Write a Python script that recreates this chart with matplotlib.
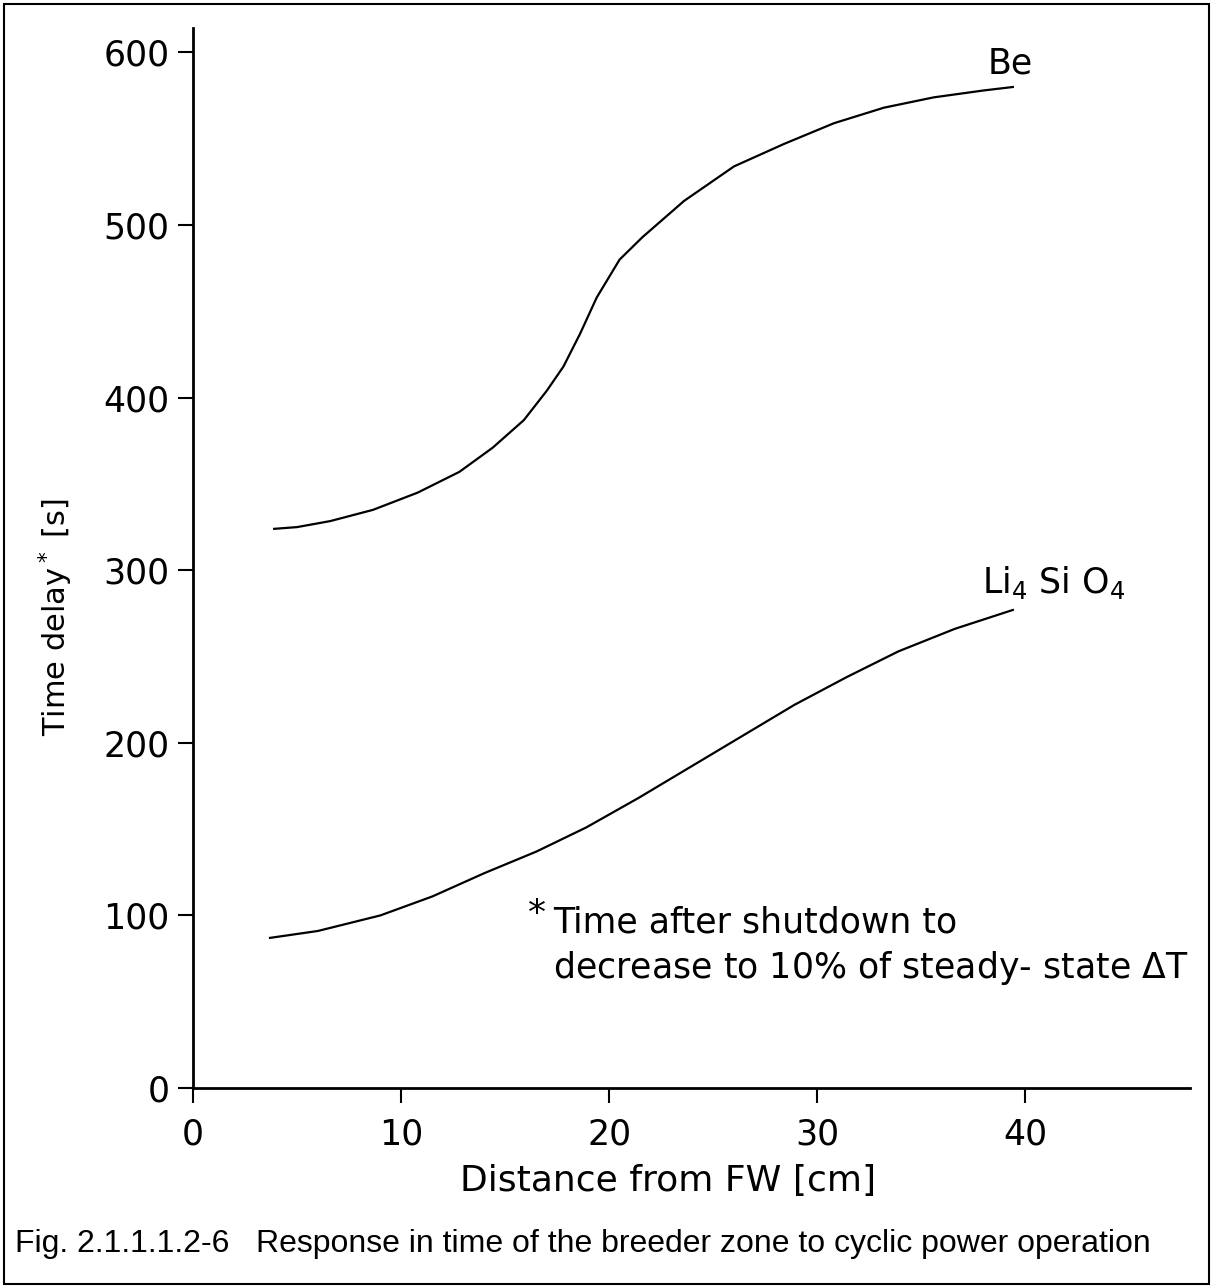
import matplotlib
matplotlib.use("Agg")
import matplotlib.pyplot as plt
from matplotlib.patches import Rectangle

# Werte
dist_be = [3.9, 5.0, 6.6, 8.65, 10.8, 12.8, 14.4, 15.9, 17.0, 17.8, 18.6, 19.4,
           20.5, 21.6, 23.6, 26.0, 28.4, 30.8, 33.2, 35.6, 38.0, 39.4]
delay_be = [324, 325, 328.5, 335, 345, 357, 371, 387, 404, 418, 437, 458,
            480, 493, 514, 534, 547, 559, 568, 574, 578, 580]

dist_li = [3.7, 6.0, 9.0, 11.5, 14.0, 16.5, 18.9, 21.4, 23.9, 26.4, 28.9, 31.4, 33.9, 36.6, 39.4]
delay_li = [87, 91, 100, 111, 124.5, 137, 151, 168, 186, 204, 222, 238, 253, 266, 277]

xticks = [0, 10, 20, 30, 40]
yticks = [0, 100, 200, 300, 400, 500, 600]

font = 'DejaVu Sans'

fig = plt.figure(figsize=(12.14, 12.87), dpi=100, facecolor='white')
fig.patches.append(Rectangle((0.003, 0.002), 0.993, 0.995, transform=fig.transFigure,
                             fill=False, edgecolor='black', linewidth=1.5))

ax = fig.add_axes([0.159, 0.1546, 0.821, 0.8234])
ax.plot(dist_be, delay_be, color='black', linewidth=1.6)
ax.plot(dist_li, delay_li, color='black', linewidth=1.6)

ax.set_xlim(0, 47.9)
ax.set_ylim(0, 614)
ax.set_xticks(xticks)
ax.set_yticks(yticks)
ax.spines['top'].set_visible(False)
ax.spines['right'].set_visible(False)
ax.spines['left'].set_linewidth(2)
ax.spines['bottom'].set_linewidth(2)
ax.tick_params(direction='out', length=11, width=1.5, pad=6, labelsize=25)
ax.tick_params(axis='x', pad=10)
for lbl in ax.get_xticklabels() + ax.get_yticklabels():
    lbl.set_family(font)

ax.set_xlabel('Distance from FW [cm]', fontsize=26, family=font)
ax.xaxis.set_label_coords(0.477, -0.072)
ax.set_ylabel('Time delay$^*$ [s]', fontsize=22, family=font)
ax.yaxis.set_label_coords(-0.118, 0.444)

ax.text(38.2, 588, 'Be', fontsize=25, family=font)
ax.text(37.9, 287, 'Li$_4$ Si O$_4$', fontsize=25, family=font)
ax.text(16.1, 95, '*', fontsize=26, family=font)
ax.text(17.3, 90.4, 'Time after shutdown to', fontsize=25, family=font)
ax.text(17.3, 63.7, 'decrease to 10% of steady- state $\\Delta$T', fontsize=25, family=font)

fig.text(0.012, 0.027, 'Fig. 2.1.1.1.2-6   Response in time of the breeder zone to cyclic power operation',
         fontsize=23, family=['Liberation Sans', 'DejaVu Sans'], va='baseline')

plt.savefig('out.png', dpi=100)
